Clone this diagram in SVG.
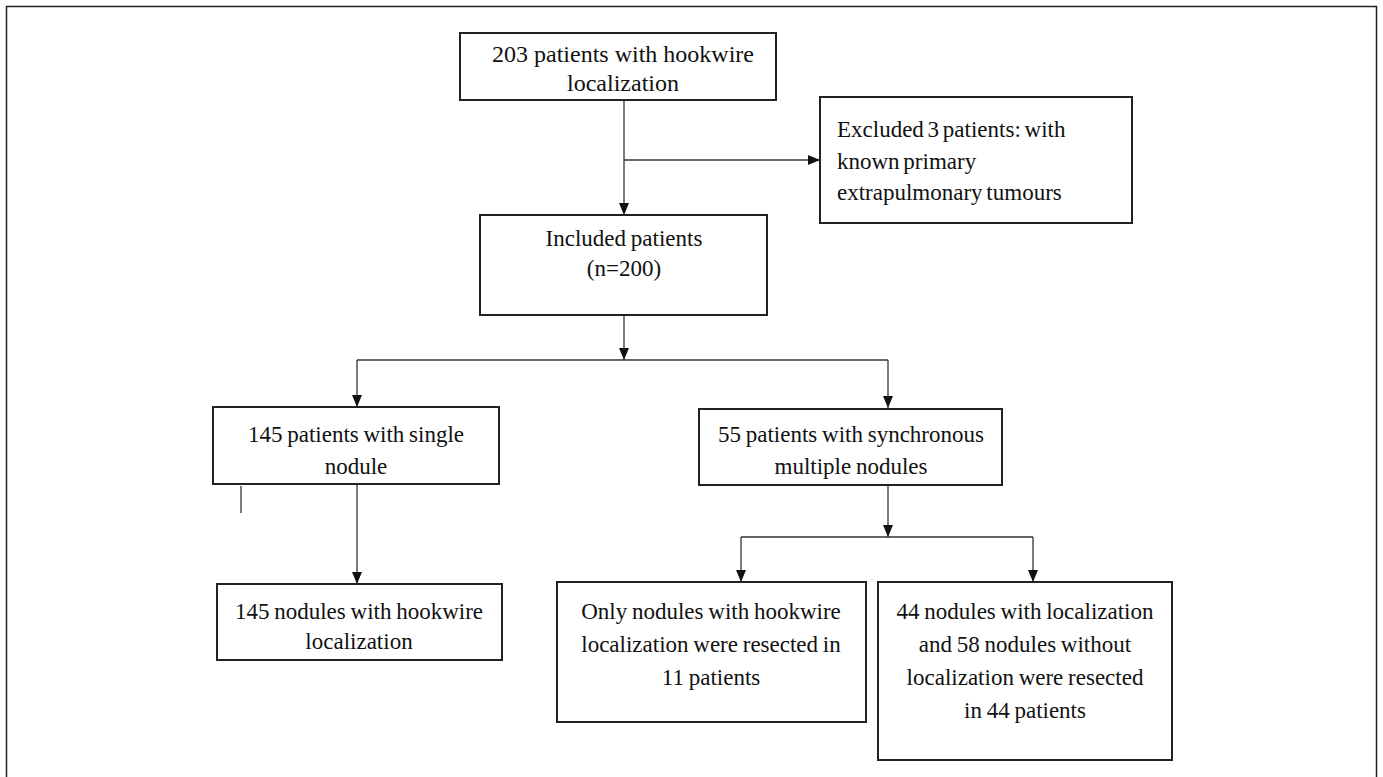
<svg xmlns="http://www.w3.org/2000/svg" width="1383" height="777" viewBox="0 0 1383 777">
<style>
.box{fill:#fff;stroke:#222;stroke-width:2}
text{font-family:'Liberation Serif','Times New Roman',Times,serif;font-size:23px;fill:#111;text-anchor:middle;word-spacing:-1px}
text.l{text-anchor:start}
.s24 text{font-size:24px;word-spacing:0}
.c{fill:none;stroke:#333;stroke-width:1.3}
</style>
<defs>
<marker id="ah" viewBox="0 0 12 10" refX="12" refY="5" markerWidth="12" markerHeight="10" markerUnits="userSpaceOnUse" orient="auto">
<path d="M0,0 L12,5 L0,10 Z" fill="#111"/>
</marker>
</defs>
<rect width="1383" height="777" fill="#fff"/>
<path d="M6.5,777 V6.5 H1376.5 V777" fill="none" stroke="#222" stroke-width="1.5"/>
<g id="connectors">
<path class="c" d="M624,100 V215" marker-end="url(#ah)"/>
<path class="c" d="M624,160 H820" marker-end="url(#ah)"/>
<path class="c" d="M624,315 V360" marker-end="url(#ah)"/>
<path class="c" d="M357,360 H888"/>
<path class="c" d="M357,360 V407" marker-end="url(#ah)"/>
<path class="c" d="M888,360 V408" marker-end="url(#ah)"/>
<path class="c" d="M241,486 V513"/>
<path class="c" d="M357,484 V584" marker-end="url(#ah)"/>
<path class="c" d="M888,485 V537" marker-end="url(#ah)"/>
<path class="c" d="M741,537 H1033"/>
<path class="c" d="M741,537 V582" marker-end="url(#ah)"/>
<path class="c" d="M1033,537 V582" marker-end="url(#ah)"/>
</g>
<g id="n1" class="s24">
<rect class="box" x="460" y="33" width="316" height="67"/>
<text x="623" y="62">203 patients with hookwire</text>
<text x="623" y="91">localization</text>
</g>
<g id="n2">
<rect class="box" x="820" y="97" width="312" height="126"/>
<text class="l" x="837" y="137" style="word-spacing:-2px">Excluded 3 patients: with</text>
<text class="l" x="837" y="169" style="word-spacing:-2px">known primary</text>
<text class="l" x="837" y="200" style="word-spacing:-2px">extrapulmonary tumours</text>
</g>
<g id="n3">
<rect class="box" x="480" y="215" width="287" height="100"/>
<text x="624" y="246">Included patients</text>
<text x="624" y="276">(n=200)</text>
</g>
<g id="n4">
<rect class="box" x="213" y="407" width="286" height="77"/>
<text x="356" y="442">145 patients with single</text>
<text x="356" y="474">nodule</text>
</g>
<g id="n5">
<rect class="box" x="699" y="409" width="303" height="76"/>
<text x="851" y="442">55 patients with synchronous</text>
<text x="851" y="474">multiple nodules</text>
</g>
<g id="n6">
<rect class="box" x="217" y="584" width="285" height="76"/>
<text x="359" y="619">145 nodules with hookwire</text>
<text x="359" y="649">localization</text>
</g>
<g id="n7">
<rect class="box" x="557" y="582" width="309" height="140"/>
<text x="711" y="619">Only nodules with hookwire</text>
<text x="711" y="652">localization were resected in</text>
<text x="711" y="685">11 patients</text>
</g>
<g id="n8">
<rect class="box" x="878" y="582" width="294" height="178"/>
<text x="1025" y="619">44 nodules with localization</text>
<text x="1025" y="652">and 58 nodules without</text>
<text x="1025" y="685">localization were resected</text>
<text x="1025" y="718">in 44 patients</text>
</g>
</svg>
